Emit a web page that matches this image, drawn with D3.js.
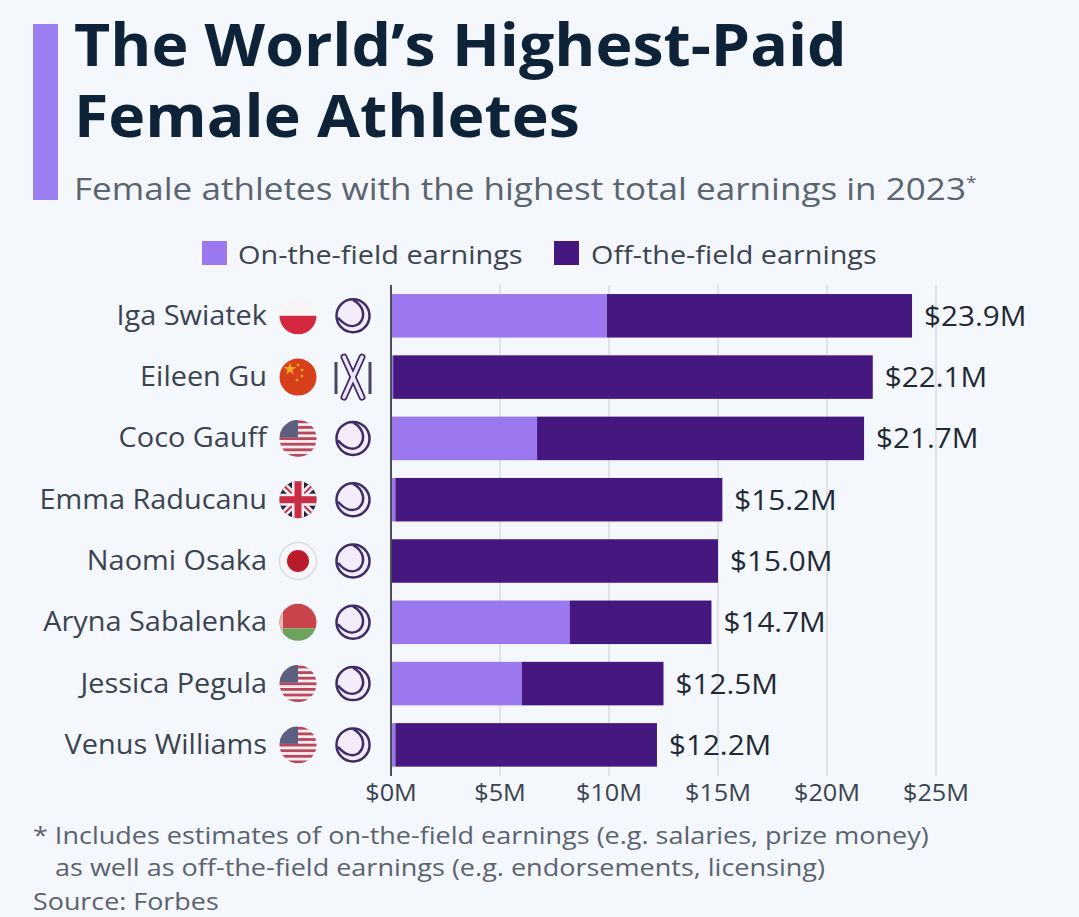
<!DOCTYPE html>
<html><head><meta charset="utf-8">
<script src="https://cdnjs.cloudflare.com/ajax/libs/d3/7.8.5/d3.min.js"></script>
<style>
html,body{margin:0;padding:0;background:#f4f7fb;overflow:hidden}
text{font-family:"Open Sans",sans-serif}
</style></head><body>
<svg id="c" width="1079" height="917"></svg>
<script>
const athletes = ["Iga Swiatek","Eileen Gu","Coco Gauff","Emma Raducanu","Naomi Osaka","Aryna Sabalenka","Jessica Pegula","Venus Williams"];
const onField = [9.9,0.1,6.7,0.2,0,8.2,6.0,0.2];
const total = [23.9,22.1,21.7,15.2,15.0,14.7,12.5,12.2];
const totalLabels = ["$23.9M","$22.1M","$21.7M","$15.2M","$15.0M","$14.7M","$12.5M","$12.2M"];
const flags = ["pl","cn","us","gb","jp","by","us","us"];
const sports = ["tennis","ski","tennis","tennis","tennis","tennis","tennis","tennis"];
const ticks = [0,5,10,15,20,25];
const tickLabels = ["$0M","$5M","$10M","$15M","$20M","$25M"];
const COL_ON="#9b78ef", COL_OFF="#45187f", INK="#3b4450", NAVY="#0f2338";

const svg=d3.select("#c");
const x=d3.scaleLinear().domain([0,25]).range([391,936]);
const y=d3.scaleBand().domain(athletes).range([282.4,778.3]).paddingInner(0.29).paddingOuter(0.19);
// the reference's lettering is wider than the installed face: stretch horizontally
const place=(s,px,py,k)=>s.attr("transform",`translate(${px},${py}) scale(${k},1)`);

// header
svg.append("rect").attr("x",33).attr("y",24).attr("width",25).attr("height",176).attr("fill","#9b7ff0");
const t=place(svg.append("text"),74,0,1.07).attr("fill",NAVY).attr("font-weight",700).attr("font-size",58.5);
t.append("tspan").attr("x",0).attr("y",66).text("The World’s Highest-Paid");
t.append("tspan").attr("x",0).attr("y",137).text("Female Athletes");
const sub=place(svg.append("text"),74,200,1.132).attr("font-size",31).attr("fill","#5b6570").text("Female athletes with the highest total earnings in 2023");
sub.append("tspan").attr("font-size",17).attr("dy",-12).text("*");

// legend
const lg=svg.append("g").attr("font-size",26).attr("fill",INK);
lg.append("rect").attr("x",202).attr("y",241).attr("width",25).attr("height",24).attr("fill",COL_ON);
place(lg.append("text"),238,264,1.11).text("On-the-field earnings");
lg.append("rect").attr("x",554).attr("y",241).attr("width",25).attr("height",24).attr("fill",COL_OFF);
place(lg.append("text"),591,264,1.108).text("Off-the-field earnings");

// grid
svg.append("g").selectAll("line").data(ticks.slice(1)).join("line")
 .attr("x1",d=>x(d)).attr("x2",d=>x(d)).attr("y1",285).attr("y2",776)
 .attr("stroke","#dfe3e8").attr("stroke-width",2);

// bars
const rows=svg.append("g").selectAll("g").data(athletes).join("g");
rows.append("rect").attr("x",x(0)).attr("y",d=>y(d)).attr("height",y.bandwidth())
 .attr("width",(d,i)=>x(onField[i])-x(0)).attr("fill",COL_ON);
rows.append("rect").attr("x",(d,i)=>x(onField[i])).attr("y",d=>y(d)).attr("height",y.bandwidth())
 .attr("width",(d,i)=>x(total[i])-x(onField[i])).attr("fill",COL_OFF);
rows.append("text").attr("transform",(d,i)=>`translate(${x(total[i])+12},${y(d)+y.bandwidth()/2+10}) scale(1.06,1)`)
 .attr("font-size",28).attr("fill","#1f2a35").text((d,i)=>totalLabels[i]);
rows.append("text").attr("transform",d=>`translate(267,${y(d)+y.bandwidth()/2+9}) scale(1.09,1)`).attr("text-anchor","end")
 .attr("font-size",26.5).attr("fill",INK).text(d=>d);

// axis line & ticks
svg.append("line").attr("x1",x(0)).attr("x2",x(0)).attr("y1",285).attr("y2",776).attr("stroke","#4a5058").attr("stroke-width",2);
svg.append("g").selectAll("text").data(ticks).join("text")
 .attr("transform",d=>`translate(${x(d)},801) scale(1.1,1)`).attr("text-anchor","middle").attr("font-size",23).attr("fill",INK)
 .text((d,i)=>tickLabels[i]);

// flags
const defs=svg.append("defs");
defs.append("clipPath").attr("id","fc").append("circle").attr("r",18.5);
const FX=298, SX=353;
function flag(g,k){
 const c=g.append("g").attr("clip-path","url(#fc)");
 const R=(x0,y0,w,h,f)=>c.append("rect").attr("x",x0).attr("y",y0).attr("width",w).attr("height",h).attr("fill",f);
 if(k==="pl"){R(-19,-19,38,19,"#f7f5f6");R(-19,0,38,19,"#d3283f");}
 if(k==="cn"){R(-19,-19,38,38,"#d8401c");
  c.append("path").attr("d",d3.symbol(d3.symbolStar,50)()).attr("transform","translate(-8,-8)").attr("fill","#f0a92a");
  [[0,-12],[4,-7],[4,-1],[-1,3]].forEach(p=>c.append("circle").attr("cx",p[0]).attr("cy",p[1]).attr("r",1.4).attr("fill","#f0a92a"));}
 if(k==="us"){R(-19,-19,38,38,"#f7eef0");
  d3.range(7).forEach(i=>R(-19,-18+i*5.6,38,2.8,"#b8485c"));
  R(-19,-19,19,18,"#5b5f80");}
 if(k==="gb"){R(-19,-19,38,38,"#25243f");
  c.append("path").attr("d","M-19,-19L19,19M19,-19L-19,19").attr("stroke","#f3eef2").attr("stroke-width",7);
  c.append("path").attr("d","M-19,-19L19,19M19,-19L-19,19").attr("stroke","#c92d45").attr("stroke-width",2);
  R(-6,-19,12,38,"#f3eef2");R(-19,-6,38,12,"#f3eef2");
  R(-3.5,-19,7,38,"#c92d45");R(-19,-3.5,38,7,"#c92d45");}
 if(k==="jp"){c.append("circle").attr("r",18.5).attr("fill","#f9f6fa");c.append("circle").attr("r",11).attr("fill","#bb1c2c");}
 if(k==="by"){R(-19,-19,38,25,"#c8444a");R(-19,6,38,13,"#6da35c");R(-19,-19,4,38,"#e0b9b3");}
 if(k==="jp")g.append("circle").attr("r",18.5).attr("fill","none").attr("stroke","#d9dde2").attr("stroke-width",1.5);
}
function sport(g,k){
 const ST="#3d2c66";
 if(k==="tennis"){
  g.append("circle").attr("r",16.5).attr("fill","#f4ecfb").attr("stroke",ST).attr("stroke-width",2.5);
  g.append("path").attr("d","M0,-16C11,-10 13,1 6,8C-1,13 -9,9 -15,2").attr("fill","none").attr("stroke",ST).attr("stroke-width",2.5);
 } else {
  g.append("path").attr("d","M-9,-20L9,20M9,-20L-9,20").attr("stroke",ST).attr("stroke-width",7).attr("stroke-linecap","round").attr("fill","none");
  g.append("path").attr("d","M-9,-20L9,20M9,-20L-9,20").attr("stroke","#efe5fb").attr("stroke-width",3.5).attr("stroke-linecap","round").attr("fill","none");
  g.append("path").attr("d","M-17,-15V17M17,-15V17").attr("stroke","#4a4560").attr("stroke-width",3).attr("fill","none");
 }
}
athletes.forEach((d,i)=>{
 const cy=y(d)+y.bandwidth()/2;
 flag(svg.append("g").attr("transform",`translate(${FX},${cy})`),flags[i]);
 sport(svg.append("g").attr("transform",`translate(${SX},${cy})`),sports[i]);
});

// notes
const n=svg.append("g").attr("font-size",24).attr("fill","#5a6470");
place(n.append("text"),33,844,1.125).text("* Includes estimates of on-the-field earnings (e.g. salaries, prize money)");
place(n.append("text"),55,876,1.126).text("as well as off-the-field earnings (e.g. endorsements, licensing)");
place(n.append("text"),33,910,1.12).text("Source: Forbes");
</script></body></html>
